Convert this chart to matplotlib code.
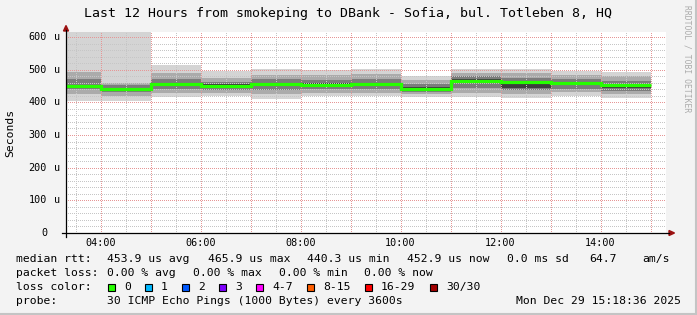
import matplotlib
matplotlib.use('Agg')
import matplotlib.pyplot as plt
from matplotlib.patches import Polygon, Rectangle
from matplotlib.lines import Line2D
import numpy as np

# time bins (hours of the day), first bin starts at 03:18:36
hour_edges = [3.31, 4, 5, 6, 7, 8, 9, 10, 11, 12, 13, 14, 15]

# median rtt per bin, in microseconds
median_rtt = [450.0, 440.3, 457.0, 451.0, 456.0, 454.0, 456.0, 442.0, 465.9, 461.0, 459.0, 452.9]

# smoke: spread of the 30 pings per bin (us)
ping_min = [405, 405, 415, 418, 411, 418, 418, 415, 415, 413, 420, 413]
ping_p10 = [425, 420, 428, 428, 425, 428, 428, 425, 430, 425, 432, 425]
ping_p25 = [440, 432, 440, 438, 437, 440, 440, 432, 445, 438, 442, 435]
ping_p45 = [446, 437, 452, 447, 450, 450, 451, 438, 460, 445, 455, 445]
ping_p55 = [453, 443, 460, 455, 460, 458, 460, 446, 470, 462, 463, 456]
ping_p75 = [470, 452, 470, 462, 470, 468, 470, 455, 480, 475, 472, 465]
ping_p90 = [493, 459, 490, 475, 485, 485, 487, 467, 490, 490, 485, 480]
ping_max = [640, 640, 515, 495, 502, 500, 502, 481, 502, 503, 497, 493]

x_ticks = [4, 6, 8, 10, 12, 14]
x_labels = ['04:00', '06:00', '08:00', '10:00', '12:00', '14:00']
y_ticks = [0, 100, 200, 300, 400, 500, 600]

loss_labels = ['0', '1', '2', '3', '4-7', '8-15', '16-29', '30/30']
loss_colors = ['#26ff00', '#00b8ff', '#0059ff', '#7e00ff', '#ff00ff', '#ff5e00', '#ff0000', '#a10000']

W, H = 697, 315
MONO = 'DejaVu Sans Mono'


def fx(x):
    return x / W


def fy(y):
    return 1 - y / H


fig = plt.figure(figsize=(W / 100, H / 100), dpi=100, facecolor='#f3f3f3')
ax = fig.add_axes([fx(66), fy(233), 600 / W, 200.6 / H])
ax.set_facecolor('white')
ax.set_xlim(3.31, 15.31)
ax.set_ylim(0, 614)
for s in ax.spines.values():
    s.set_visible(False)
ax.set_xticks([])
ax.set_yticks([])

# smoke bands, outer to inner
bands = [(ping_min, ping_max, '#d4d4d4'),
         (ping_p10, ping_p90, '#ababab'),
         (ping_p25, ping_p75, '#7c7c7c'),
         (ping_p45, ping_p55, '#3e3e3e')]
for lo, hi, c in bands:
    ax.stairs(hi, hour_edges, baseline=lo, fill=True, color=c, lw=0, zorder=1)

# grid on top of smoke (dotted)
dot = (0, (1, 2))
gkw = dict(lw=0.72, ls=dot, zorder=2, antialiased=False)
for v in np.arange(20, 614, 20):
    if v % 100:
        ax.axhline(v, color='#c6c6c6', **gkw)
for h in np.arange(3.5, 15.4, 1.0):
    ax.axvline(h, color='#c6c6c6', **gkw)
for v in y_ticks[1:]:
    ax.axhline(v, color='#e69696', **gkw)
for h in range(4, 16):
    ax.axvline(h, color='#e69696', **gkw)

# median line
ax.stairs(median_rtt, hour_edges, baseline=None, color='#26ff00', lw=2.3, zorder=3)

# axes with arrows
fig.add_artist(Line2D([fx(62), fx(669)], [fy(233), fy(233)], color='black', lw=0.9))
fig.add_artist(Line2D([fx(66), fx(66)], [fy(237), fy(30)], color='black', lw=0.9))
fig.add_artist(Polygon([(fx(63.5), fy(31)), (fx(68.5), fy(31)), (fx(66), fy(25.5))],
                       closed=True, color='#9b1010'))
fig.add_artist(Polygon([(fx(669), fy(230.5)), (fx(669), fy(235.5)), (fx(674.5), fy(233))],
                       closed=True, color='#9b1010'))

# tick labels
for v in y_ticks:
    yy = 233 - v * 196 / 600
    fig.text(fx(47), fy(yy), str(v), ha='right', va='center', family=MONO, fontsize=7.3)
    if v:
        fig.text(fx(54), fy(yy), 'u', ha='left', va='center', family=MONO, fontsize=7.3)
for h, lab in zip(x_ticks, x_labels):
    fig.text(fx(66 + (h - 3.31) * 50), fy(242.5), lab, ha='center', va='center',
             family=MONO, fontsize=7.3)

fig.text(fx(10), fy(133), 'Seconds', rotation=90, ha='center', va='center',
         family=MONO, fontsize=8.2)
fig.text(fx(348), fy(13.5), 'Last 12 Hours from smokeping to DBank - Sofia, bul. Totleben 8, HQ',
         ha='center', va='center', family=MONO, fontsize=9.5)
fig.text(fx(687), fy(59), 'RRDTOOL / TOBI OETIKER', rotation=270, ha='center', va='center',
         family=MONO, fontsize=5.8, color='#ababab')

# legend block
lf = dict(family=MONO, fontsize=8.2, va='center', ha='left')
row1 = [(16, 'median rtt:'), (107, '453.9 us avg'), (207.5, '465.9 us max'),
        (307, '440.3 us min'), (407, '452.9 us now'), (507, '0.0 ms sd'),
        (589, '64.7'), (642, 'am/s')]
row2 = [(16, 'packet loss:'), (107, '0.00 % avg'), (193.3, '0.00 % max'),
        (279.3, '0.00 % min'), (364.5, '0.00 % now')]
for x, t in row1:
    fig.text(fx(x), fy(259.3), t, **lf)
for x, t in row2:
    fig.text(fx(x), fy(273.3), t, **lf)

fig.text(fx(16), fy(287.3), 'loss color:', **lf)
swatch_x = [108, 145, 182, 219, 256, 307, 365, 430]
for x, lab, c in zip(swatch_x, loss_labels, loss_colors):
    fig.add_artist(Rectangle((fx(x), fy(291)), 7 / W, 7.5 / H, facecolor=c,
                             edgecolor='black', lw=0.8))
    fig.text(fx(x + 16), fy(287.3), lab, **lf)

fig.text(fx(16), fy(301.3), 'probe:', **lf)
fig.text(fx(107), fy(301.3), '30 ICMP Echo Pings (1000 Bytes) every 3600s', **lf)
fig.text(fx(681), fy(301.3), 'Mon Dec 29 15:18:36 2025', family=MONO, fontsize=8.2,
         va='center', ha='right')

# frame shadow right / bottom
fig.add_artist(Line2D([fx(696), fx(696)], [0, 1], color='#c4c4c4', lw=1.5))
fig.add_artist(Line2D([0, 1], [fy(314), fy(314)], color='#c4c4c4', lw=1.5))

fig.savefig('out.png', dpi=100, facecolor=fig.get_facecolor())
